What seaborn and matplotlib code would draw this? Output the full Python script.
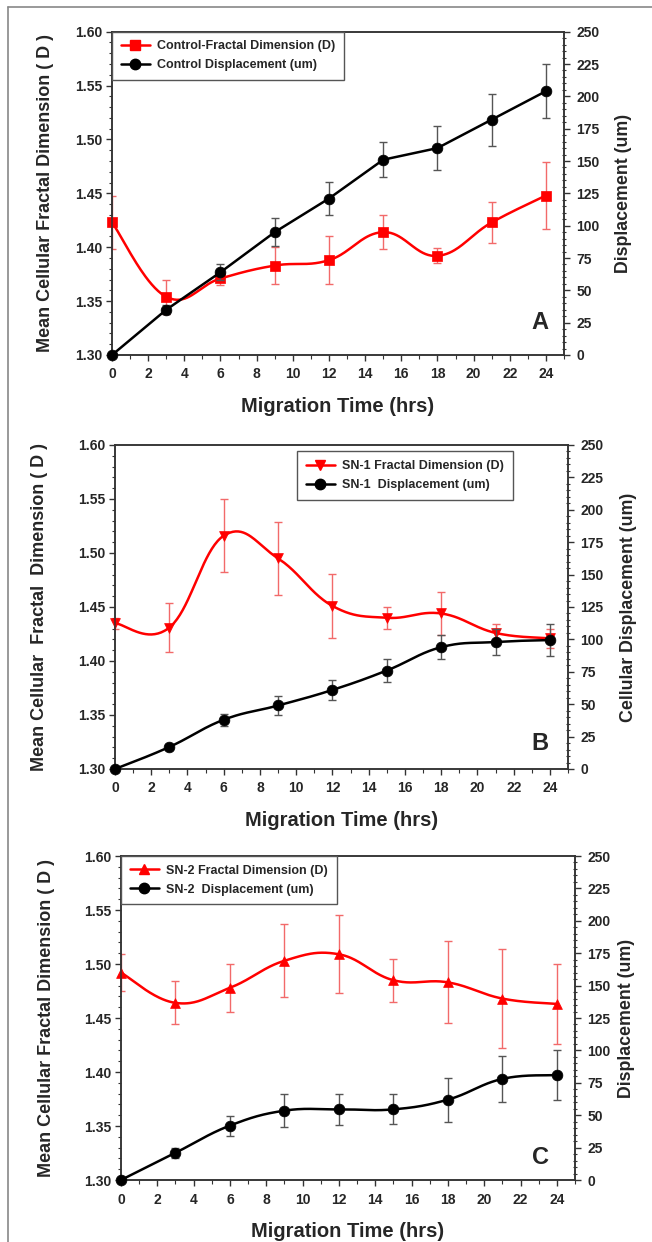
import numpy as np
import matplotlib
matplotlib.use("Agg")
import matplotlib.pyplot as plt
import seaborn as sns
import pandas as pd
from matplotlib.lines import Line2D
from matplotlib.ticker import MultipleLocator, FormatStrFormatter

# ---------------- data ----------------
time_hrs = [0, 3, 6, 9, 12, 15, 18, 21, 24]

ctrl_fd = [1.423, 1.354, 1.371, 1.383, 1.388, 1.414, 1.392, 1.423, 1.448]
ctrl_fd_err = [0.025, 0.016, 0.006, 0.017, 0.022, 0.016, 0.007, 0.019, 0.031]
ctrl_disp = [0, 35, 64, 95, 121, 151, 160, 182, 204]
ctrl_disp_err = [0, 3.5, 6, 11, 13, 13.5, 17, 20, 21]

sn1_fd = [1.435, 1.431, 1.516, 1.495, 1.451, 1.440, 1.444, 1.426, 1.421]
sn1_fd_err = [0.005, 0.023, 0.034, 0.034, 0.030, 0.010, 0.020, 0.008, 0.009]
sn1_disp = [0, 17, 38, 49, 61, 76, 94, 98, 99.5]
sn1_disp_err = [0, 2, 4.5, 7, 8, 9, 9.5, 10, 12]

sn2_fd = [1.492, 1.464, 1.478, 1.503, 1.509, 1.485, 1.483, 1.468, 1.463]
sn2_fd_err = [0.017, 0.020, 0.022, 0.034, 0.036, 0.020, 0.038, 0.046, 0.037]
sn2_disp = [0, 21, 42, 53.5, 54.5, 54.5, 62, 78, 81]
sn2_disp_err = [0, 4, 7.7, 12.6, 12, 11.5, 17, 17.6, 19]

left_ticks = [1.30, 1.35, 1.40, 1.45, 1.50, 1.55, 1.60]
right_ticks = [0, 25, 50, 75, 100, 125, 150, 175, 200, 225, 250]
x_ticks = list(range(0, 25, 2))

panels = [
    dict(fd=ctrl_fd, fde=ctrl_fd_err, dp=ctrl_disp, dpe=ctrl_disp_err,
         fd_label="Control-Fractal Dimension (D)", dp_label="Control Displacement (um)",
         fd_marker="s", dp_smooth=False,
         ylabel="Mean Cellular Fractal Dimension ( D )", y2label="Displacement (um)",
         letter="A", pos=[112, 31.7, 564, 355], ylx=-0.128, y2x=1.113, letx=0.947, lety=0.099,
         leg_loc="upper left", leg_anchor=(0.0, 1.0)),
    dict(fd=sn1_fd, fde=sn1_fd_err, dp=sn1_disp, dpe=sn1_disp_err,
         fd_label="SN-1 Fractal Dimension (D)", dp_label="SN-1  Displacement (um)",
         fd_marker="v", dp_smooth=True,
         ylabel="Mean Cellular  Fractal  Dimension ( D )", y2label="Cellular Displacement (um)",
         letter="B", pos=[115, 445, 568, 769], ylx=-0.148, y2x=1.115, letx=0.938, lety=0.08,
         leg_loc="upper right", leg_anchor=(0.878, 0.98)),
    dict(fd=sn2_fd, fde=sn2_fd_err, dp=sn2_disp, dpe=sn2_disp_err,
         fd_label="SN-2 Fractal Dimension (D)", dp_label="SN-2  Displacement (um)",
         fd_marker="^", dp_smooth=True,
         ylabel="Mean Cellular Fractal Dimension ( D )", y2label="Displacement (um)",
         letter="C", pos=[121, 856, 575, 1180], ylx=-0.145, y2x=1.095, letx=0.923, lety=0.068,
         leg_loc="upper left", leg_anchor=(0.0, 1.0)),
]

# ---------------- style ----------------
sns.set_style("ticks")
plt.rcParams["font.family"] = ["Liberation Sans", "DejaVu Sans"]
plt.rcParams["font.weight"] = "bold"

W, H = 652, 1242
fig = plt.figure(figsize=(W / 100, H / 100), dpi=100)

RED = "#ff0000"
RED_ERR = "#f26a6a"
BLACK = "#000000"
BLACK_ERR = "#555555"


def smooth(x, y, k=0.2, n=40):
    x = np.asarray(x, float)
    y = np.asarray(y, float)
    N = len(x)
    xs, ys = [], []
    for i in range(N - 1):
        a = i - 1 if i > 0 else 0
        d = i + 2 if i + 2 < N else N - 1
        c1x = x[i] + (x[i + 1] - x[a]) * k
        c1y = y[i] + (y[i + 1] - y[a]) * k
        c2x = x[i + 1] - (x[d] - x[i]) * k
        c2y = y[i + 1] - (y[d] - y[i]) * k
        t = np.linspace(0, 1, n, endpoint=(i == N - 2))
        b0 = (1 - t) ** 3
        b1 = 3 * (1 - t) ** 2 * t
        b2 = 3 * (1 - t) * t ** 2
        b3 = t ** 3
        xs.append(b0 * x[i] + b1 * c1x + b2 * c2x + b3 * x[i + 1])
        ys.append(b0 * y[i] + b1 * c1y + b2 * c2y + b3 * y[i + 1])
    return np.concatenate(xs), np.concatenate(ys)


TICK_FS = 10

for p in panels:
    l, t, r, b = p["pos"]
    ax = fig.add_axes([l / W, 1 - b / H, (r - l) / W, (b - t) / H])
    ax2 = ax.twinx()

    # fractal dimension (left axis)
    sx, sy = smooth(time_hrs, p["fd"])
    df_fd = pd.DataFrame({"t": sx, "v": sy})
    sns.lineplot(data=df_fd, x="t", y="v", sort=False, estimator=None, ax=ax,
                 color=RED, lw=1.8, zorder=3)
    ax.errorbar(time_hrs, p["fd"], yerr=p["fde"], fmt="none", ecolor=RED_ERR,
                elinewidth=1.0, capsize=3, capthick=1.0, zorder=2)
    sc1 = sns.scatterplot(x=time_hrs, y=p["fd"], ax=ax, marker=p["fd_marker"], s=50,
                          color=RED, edgecolor=RED, linewidth=0.5, zorder=4)
    for c in ax.collections:
        c.set_clip_on(False)

    # displacement (right axis)
    if p["dp_smooth"]:
        dx, dy = smooth(time_hrs, p["dp"])
    else:
        dx, dy = np.asarray(time_hrs, float), np.asarray(p["dp"], float)
    df_dp = pd.DataFrame({"t": dx, "v": dy})
    sns.lineplot(data=df_dp, x="t", y="v", sort=False, estimator=None, ax=ax2,
                 color=BLACK, lw=1.8, zorder=3)
    ax2.errorbar(time_hrs, p["dp"], yerr=p["dpe"], fmt="none", ecolor=BLACK_ERR,
                 elinewidth=1.0, capsize=3, capthick=1.0, zorder=2)
    sns.scatterplot(x=time_hrs, y=p["dp"], ax=ax2, marker="o", s=60,
                    color=BLACK, edgecolor=BLACK, linewidth=0.5, zorder=4)
    for c in ax2.collections:
        c.set_clip_on(False)

    # axes setup
    ax.set_xlim(0, 25)
    ax.set_ylim(1.30, 1.60)
    ax2.set_ylim(0, 250)
    ax.set_xticks(x_ticks)
    ax.set_yticks(left_ticks)
    ax2.set_yticks(right_ticks)
    ax.xaxis.set_minor_locator(MultipleLocator(1))
    ax.yaxis.set_minor_locator(MultipleLocator(0.01))
    ax2.yaxis.set_minor_locator(MultipleLocator(5))
    ax.yaxis.set_major_formatter(FormatStrFormatter("%.2f"))

    for a in (ax, ax2):
        for s in a.spines.values():
            s.set_visible(True)
            s.set_color("#333333")
            s.set_linewidth(1.1)
    ax.tick_params(axis="x", which="major", direction="out", length=4, width=1,
                   color="#333333", pad=5, labelsize=TICK_FS)
    ax.tick_params(axis="x", which="minor", direction="out", length=3, width=0.8,
                   color="#333333")
    ax.tick_params(axis="y", which="major", direction="out", length=4, width=1,
                   color="#333333", pad=3, labelsize=TICK_FS)
    ax.tick_params(axis="y", which="minor", direction="out", length=2.5, width=0.8,
                   color="#333333")
    ax2.tick_params(axis="y", which="major", direction="out", length=4, width=1,
                    color="#333333", pad=5, labelsize=TICK_FS)
    ax2.tick_params(axis="y", which="minor", direction="inout", length=3, width=0.8,
                    color="#333333")
    for lab in ax.get_xticklabels() + ax.get_yticklabels() + ax2.get_yticklabels():
        lab.set_fontweight("bold")

    ax.set_xlabel("Migration Time (hrs)", fontsize=14.5, fontweight="bold")
    ax.xaxis.set_label_coords(0.5, -0.13)
    ax.set_ylabel(p["ylabel"], fontsize=13, fontweight="bold")
    ax.yaxis.set_label_coords(p["ylx"], 0.5)
    ax2.set_ylabel(p["y2label"], fontsize=12.8, fontweight="bold")
    ax2.yaxis.set_label_coords(p["y2x"], 0.5)

    ax.text(p["letx"], p["lety"], p["letter"], transform=ax.transAxes,
            fontsize=17, fontweight="bold", ha="center", va="center", zorder=10)

    handles = [
        Line2D([], [], color=RED, marker=p["fd_marker"], markersize=7, lw=1.8),
        Line2D([], [], color=BLACK, marker="o", markersize=7.5, lw=1.8),
    ]
    leg = ax2.legend(handles, [p["fd_label"], p["dp_label"]], loc=p["leg_loc"],
                     bbox_to_anchor=p["leg_anchor"], frameon=True, fancybox=False,
                     edgecolor="#555555", framealpha=1,
                     prop={"weight": "bold", "size": 9}, handlelength=2.3,
                     borderpad=0.7, labelspacing=0.55, borderaxespad=0,
                     handletextpad=0.6)
    leg.get_frame().set_linewidth(1.0)
    leg.set_zorder(10)

# outer border (left and top)
fig.add_artist(Line2D([7.5 / W, 7.5 / W], [0, 1 - 7 / H], transform=fig.transFigure,
                      color="#888888", lw=1.2))
fig.add_artist(Line2D([7.5 / W, 1], [1 - 7 / H, 1 - 7 / H], transform=fig.transFigure,
                      color="#888888", lw=1.2))

fig.savefig("out.png", dpi=100)
